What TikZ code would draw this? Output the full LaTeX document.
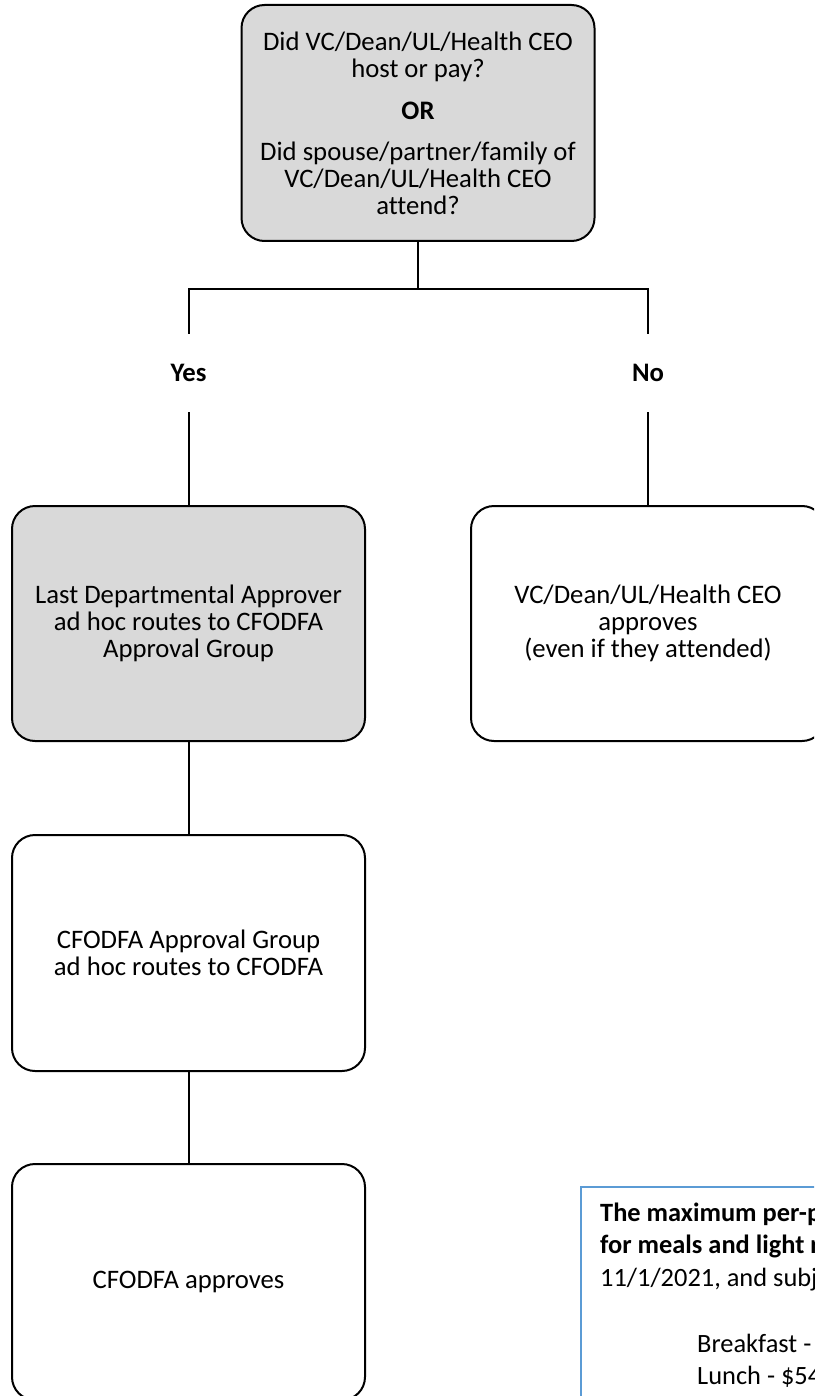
\documentclass[tikz,border=0pt]{standalone}
\usepackage{fontspec}
\setmainfont[Ligatures=NoCommon]{Carlito}
\definecolor{boxgray}{HTML}{D9D9D9}
\definecolor{noteblue}{HTML}{5B9BD5}
\begin{document}
\begin{tikzpicture}[x=1pt,y=-1pt,
  flowbox/.style={draw=black, line width=2pt, rounded corners=23pt,
    minimum width=353pt, minimum height=235pt, align=center, inner sep=0pt,
    font=\fontsize{26.7}{27}\selectfont},
  grayfill/.style={fill=boxgray},
  link/.style={draw=black, line width=2pt},
  answer/.style={font=\fontsize{26.7}{27}\selectfont\bfseries,
    minimum height=78pt, inner sep=0pt},
  notetext/.style={anchor=base west, inner sep=0pt,
    font=\fontsize{26.4}{32}\selectfont}]

\useasboundingbox (0,0) rectangle (814,1396);
\clip (0,0) rectangle (814,1396);

% decision box
\node[flowbox, grayfill, minimum height=236pt] (q) at (418,123)
  {Did VC/Dean/UL/Health CEO\\host or pay?\\[15pt]\textbf{OR}\\[14pt]%
   Did spouse/partner/family of\\VC/Dean/UL/Health CEO\\attend?};

% branch labels
\coordinate (split) at (418,289);
\coordinate (splitL) at (188.5,289);
\coordinate (splitR) at (648,289);
\node[answer] (yes) at (188.5,373) {Yes};
\node[answer] (no) at (648,373) {No};

% outcome boxes
\node[flowbox, grayfill] (approver) at (188.5,623.5)
  {Last Departmental Approver\\ad hoc routes to CFODFA\\Approval Group};
\node[flowbox, minimum width=354pt] (vcapp) at (648,623.5)
  {VC/Dean/UL/Health CEO\\approves\\(even if they attended)};
\node[flowbox, minimum height=236pt] (group) at (188.5,953)
  {CFODFA Approval Group\\ad hoc routes to CFODFA};
\node[flowbox, minimum height=236pt] (cfodfa) at (188.5,1282)
  {CFODFA approves};

% connectors
\draw[link] (q.south) -- (split);
\draw[link] (yes.north) -- (splitL) -- (splitR) -- (no.north);
\draw[link] (yes.south) -- (approver.north);
\draw[link] (no.south) -- (vcapp.north);
\draw[link] (approver.south) -- (group.north);
\draw[link] (group.south) -- (cfodfa.north);

% meal limits note
\node[draw=noteblue, line width=1.5pt, minimum width=250pt,
  minimum height=225pt, inner sep=0pt, anchor=north west] (note) at (580,1186) {};
\node[notetext, font=\fontsize{26.4}{32}\selectfont\bfseries] at (600,1221) {The maximum per-p};
\node[notetext, font=\fontsize{26.4}{32}\selectfont\bfseries] at (600,1253) {for meals and light r};
\node[notetext] at (600,1286) {11/1/2021, and subj};
\node[notetext] at (697,1352) {Breakfast -};
\node[notetext] at (697,1384) {Lunch - \$54};
\end{tikzpicture}
\end{document}
